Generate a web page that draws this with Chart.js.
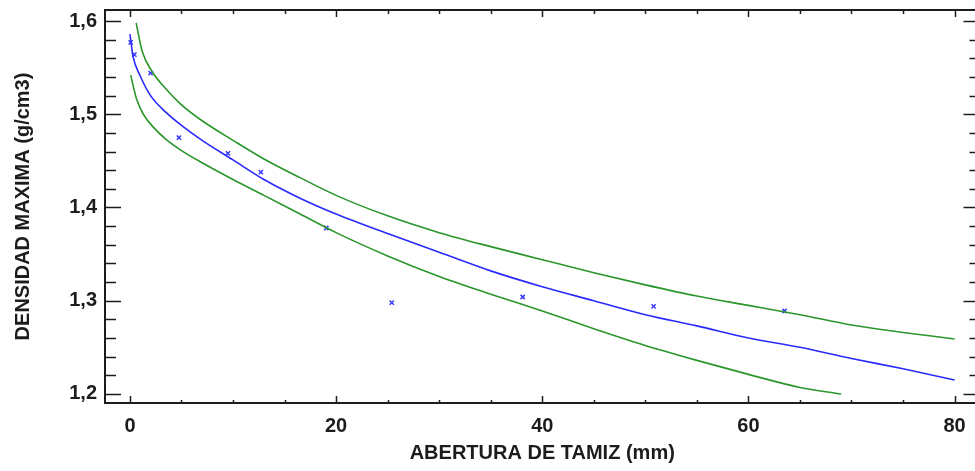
<!DOCTYPE html>
<html>
<head>
<meta charset="utf-8">
<script src="https://cdn.jsdelivr.net/npm/chart.js@4"></script>
<style>
  html, body { margin: 0; padding: 0; background: #fff; overflow: hidden; }
</style>
</head>
<body>
<canvas id="myChart" width="985" height="471"></canvas>
<script>
// observed points
var sieveX = [0.075, 0.425, 2.0, 4.75, 9.5, 12.7, 19.05, 25.4, 38.1, 50.8, 63.5];
var densY = [1.577, 1.564, 1.544, 1.475, 1.458, 1.438, 1.378, 1.298, 1.304, 1.294, 1.289];

// fitted curve
var fitX = [0, 0.3, 1, 2, 3.5, 5, 7, 10, 13, 16.5, 20, 25, 30, 35, 40, 45, 50, 55, 60, 65, 70, 75, 80];
var fitY = [1.586, 1.562, 1.541, 1.520, 1.502, 1.488, 1.472, 1.451, 1.430, 1.410, 1.393, 1.372, 1.352, 1.332, 1.315, 1.300, 1.285, 1.273, 1.260, 1.250, 1.238, 1.227, 1.215];

// upper limit
var upX = [0.6, 1.2, 2.2, 3.5, 5, 7, 10, 13, 16.5, 20, 25, 30, 35, 40, 45, 50, 55, 60, 65, 70, 75, 80];
var upY = [1.598, 1.567, 1.545, 1.527, 1.510, 1.493, 1.472, 1.452, 1.432, 1.413, 1.391, 1.373, 1.358, 1.344, 1.330, 1.317, 1.305, 1.295, 1.285, 1.274, 1.266, 1.259];

// lower limit
var lowX = [0.07, 0.65, 1.3, 2.2, 3.5, 5, 7, 10, 13, 16.5, 20, 25, 30, 35, 40, 45, 50, 55, 60, 65, 69];
var lowY = [1.542, 1.516, 1.500, 1.487, 1.473, 1.461, 1.448, 1.430, 1.413, 1.393, 1.373, 1.348, 1.326, 1.307, 1.289, 1.270, 1.252, 1.236, 1.221, 1.207, 1.200];

var xTicks = [0, 20, 40, 60, 80];
var yTicks = [1.2, 1.3, 1.4, 1.5, 1.6];

function pts(xs, ys) {
  return xs.map(function (v, i) { return {x: v, y: ys[i]}; });
}

var axisFont = {family: "'Liberation Sans', Arial, sans-serif", size: 20, weight: 'bold'};
var inkColor = '#1c1c1c';

// frame with inward ticks on all four sides
var frame = {
  id: 'frame',
  afterDatasetsDraw: function (chart) {
    var ctx = chart.ctx, a = chart.chartArea;
    var x = chart.scales.x, y = chart.scales.y;
    ctx.save();
    ctx.strokeStyle = inkColor;
    ctx.lineWidth = 1.5;
    ctx.beginPath();
    for (var v = 0; v <= 80.001; v += 5) {
      var px = Math.round(x.getPixelForValue(v)) + 0.5;
      var major = Math.abs(v % 20) < 0.001;
      ctx.moveTo(px, a.bottom); ctx.lineTo(px, a.bottom - (major ? 7 : 3));
      ctx.moveTo(px, a.top); ctx.lineTo(px, a.top + (major ? 7 : 4));
    }
    for (var i = 0; i <= 20; i++) {
      var val = 1.2 + i * 0.02;
      var py = Math.round(y.getPixelForValue(val)) + 0.5;
      var maj = i % 5 === 0;
      ctx.moveTo(a.left, py); ctx.lineTo(a.left + (maj ? 16 : 11), py);
      ctx.moveTo(a.right, py); ctx.lineTo(a.right - (maj ? 16 : 10), py);
    }
    ctx.stroke();
    ctx.lineWidth = 2;
    ctx.strokeRect(a.left, a.top, a.right - a.left, a.bottom - a.top);
    ctx.restore();
  }
};

new Chart("myChart", {
  type: "scatter",
  data: {
    datasets: [{
      data: pts(upX, upY),
      showLine: true,
      borderColor: "#2b962b",
      borderWidth: 1.6,
      pointRadius: 0,
      cubicInterpolationMode: 'monotone'
    }, {
      data: pts(lowX, lowY),
      showLine: true,
      borderColor: "#2b962b",
      borderWidth: 1.6,
      pointRadius: 0,
      cubicInterpolationMode: 'monotone'
    }, {
      data: pts(fitX, fitY),
      showLine: true,
      borderColor: "#2a2aff",
      borderWidth: 1.6,
      pointRadius: 0,
      cubicInterpolationMode: 'monotone'
    }, {
      data: pts(sieveX, densY),
      showLine: false,
      pointStyle: 'crossRot',
      pointRadius: 3,
      borderColor: "#3a3aff",
      pointBorderWidth: 1.5
    }]
  },
  options: {
    responsive: false,
    animation: false,
    layout: {padding: {top: 10, right: 4, left: 0, bottom: 0}},
    plugins: {legend: {display: false}, tooltip: {enabled: false}},
    scales: {
      x: {
        type: 'linear',
        min: -2.42,
        max: 82.42,
        afterBuildTicks: function (s) { s.ticks = xTicks.map(function (v) { return {value: v}; }); },
        afterFit: function (s) { s.height = 68; s.paddingLeft = 0; s.paddingRight = 0; },
        grid: {display: false, drawTicks: false},
        border: {display: false},
        ticks: {font: axisFont, color: inkColor, padding: 11, maxRotation: 0},
        title: {display: true, text: 'ABERTURA DE TAMIZ (mm)', font: axisFont, color: inkColor, padding: {top: 0, bottom: 6}}
      },
      y: {
        type: 'linear',
        min: 1.1903,
        max: 1.6118,
        afterBuildTicks: function (s) { s.ticks = yTicks.map(function (v) { return {value: v}; }); },
        afterFit: function (s) { s.width = 105; s.paddingTop = 0; s.paddingBottom = 0; },
        grid: {display: false, drawTicks: false},
        border: {display: false},
        ticks: {
          font: axisFont, color: inkColor, padding: 8,
          callback: function (v) { return v.toFixed(1).replace('.', ','); }
        },
        title: {display: true, text: 'DENSIDAD MAXIMA (g/cm3)', font: axisFont, color: inkColor, padding: {top: 11, bottom: 0}}
      }
    }
  },
  plugins: [frame]
});
</script>
</body>
</html>
